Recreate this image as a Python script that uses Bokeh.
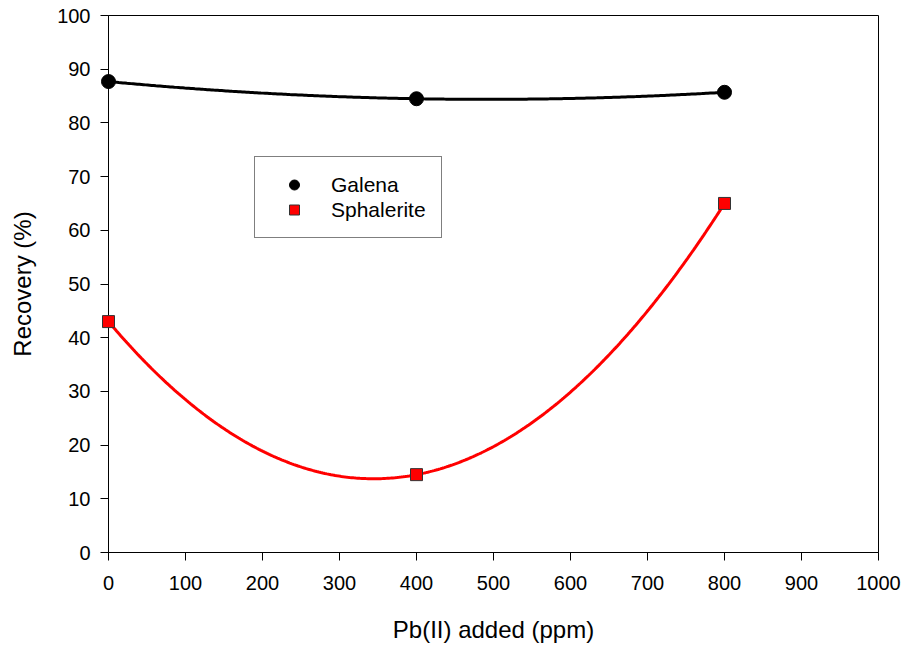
import numpy as np
from bokeh.plotting import figure
from bokeh.models import Range1d, FixedTicker, Legend, LegendItem
from bokeh.embed import file_html
from bokeh.resources import INLINE

# Data
pb_added = [0, 400, 800]
galena = [87.7, 84.5, 85.7]
sphalerite = [43.0, 14.5, 65.0]

x_ticks = [0, 100, 200, 300, 400, 500, 600, 700, 800, 900, 1000]
y_ticks = [0, 10, 20, 30, 40, 50, 60, 70, 80, 90, 100]

FONT = "Liberation Sans"

p = figure(width=903, height=645, output_backend="svg", toolbar_location=None,
           x_range=Range1d(0, 1000), y_range=Range1d(0, 100),
           min_border_left=108, min_border_right=25, min_border_top=15, min_border_bottom=91)

p.grid.visible = False
p.outline_line_color = "black"
p.outline_line_width = 1
p.background_fill_color = "white"
p.border_fill_color = "white"

for ax, ticks in ((p.xaxis, x_ticks), (p.yaxis, y_ticks)):
    ax.ticker = FixedTicker(ticks=ticks)
    ax.axis_line_color = "black"
    ax.axis_line_width = 1
    ax.major_tick_line_color = "black"
    ax.major_tick_out = 8
    ax.major_tick_in = 0
    ax.minor_tick_line_color = None
    ax.major_label_text_font = FONT
    ax.major_label_text_font_size = "20px"
    ax.major_label_text_color = "black"
    ax.axis_label_text_font = FONT
    ax.axis_label_text_font_size = "24px"
    ax.axis_label_text_font_style = "normal"
    ax.axis_label_text_color = "black"

p.xaxis.axis_label = "Pb(II) added (ppm)"
p.yaxis.axis_label = "Recovery (%)"
p.xaxis.major_label_standoff = 15
p.yaxis.major_label_standoff = 10
p.xaxis.axis_label_standoff = 23
p.yaxis.axis_label_standoff = 18

# smooth curves through the three measured points (quadratic, as in the source)
xs = np.linspace(pb_added[0], pb_added[-1], 300)
g_fit = np.polyval(np.polyfit(pb_added, galena, 2), xs)
s_fit = np.polyval(np.polyfit(pb_added, sphalerite, 2), xs)

p.line(xs, g_fit, line_color="black", line_width=3)
p.line(xs, s_fit, line_color="#ff0000", line_width=3)

r_g = p.scatter(pb_added, galena, marker="circle", size=14, fill_color="black",
                line_color="black", level="overlay")
r_s = p.scatter(pb_added, sphalerite, marker="square", size=12, fill_color="#ff0000",
                line_color="#333333", line_width=1, level="overlay")

legend = Legend(items=[LegendItem(label="Galena", renderers=[r_g]),
                       LegendItem(label="Sphalerite", renderers=[r_s])],
                location=(146, 314), margin=0, padding=15, spacing=0,
                glyph_width=48, glyph_height=25, label_height=20, label_standoff=13,
                label_text_font=FONT, label_text_font_size="21px", label_text_color="black",
                border_line_color="black", border_line_width=1,
                background_fill_color="white", background_fill_alpha=1.0)
p.add_layout(legend)

open("out.html", "w").write(file_html(p, INLINE))
